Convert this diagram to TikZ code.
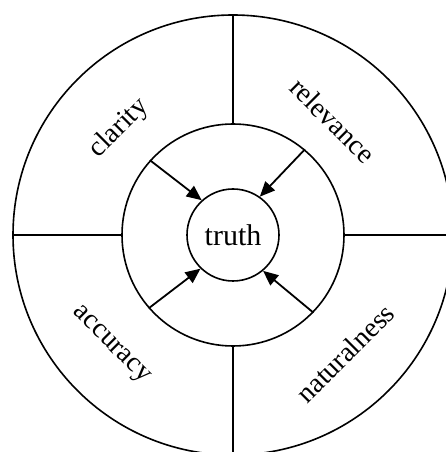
\documentclass[tikz,border=0pt]{standalone}
\usepackage{fontspec}
\setmainfont{Liberation Serif}
\usetikzlibrary{arrows.meta,calc}
\begin{document}
\begin{tikzpicture}[x=1pt,y=1pt,
  ring/.style={draw,circle,line width=1.6pt,inner sep=0pt},
  sep/.style={line width=1.6pt},
  arr/.style={line width=1.8pt,-{Triangle[length=15pt,width=13pt]}},
  lab/.style={font=\fontsize{28}{30}\selectfont,inner sep=0pt}]
\useasboundingbox (0,0) rectangle (446,452);
\clip (0,0) rectangle (446,452);
\coordinate (c) at (233,217);
\node[ring,minimum size=440pt] (outer) at (c) {};
\node[ring,minimum size=222pt] (mid) at (c) {};
\node[ring,minimum size=92pt,font=\fontsize{30}{32}\selectfont] (truth) at (c) {truth};
\draw[sep] (outer.90) -- (mid.90);
\draw[sep] (outer.270) -- (mid.270);
\draw[sep] (outer.180) -- (mid.180);
\draw[sep] (outer.0) -- (mid.0);
\draw[arr] (mid.138) -- (truth.132);
\draw[arr] (mid.50) -- (truth.55);
\draw[arr] (mid.221) -- (truth.226);
\draw[arr] (mid.316) -- (truth.310);
\node[lab,rotate=45] (clarity) at ($(c)+(137:156)$) {clarity};
\node[lab,rotate=-45] (relevance) at ($(c)+(49:152)$) {relevance};
\node[lab,rotate=-45] (accuracy) at ($(c)+(222:165)$) {accuracy};
\node[lab,rotate=45] (naturalness) at ($(c)+(-46.5:163)$) {naturalness};
\end{tikzpicture}
\end{document}
